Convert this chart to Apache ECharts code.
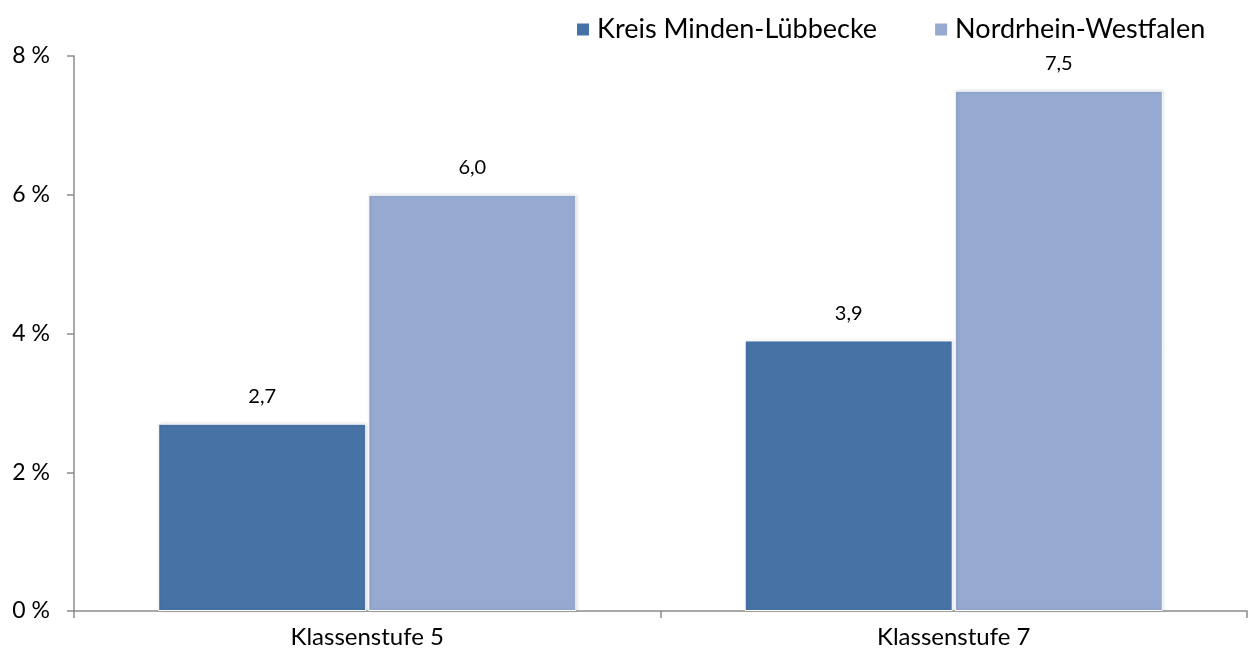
<!DOCTYPE html>
<html>
<head>
<meta charset="utf-8">
<script src="https://cdn.jsdelivr.net/npm/echarts@6/dist/echarts.min.js"></script>
<style>html,body{margin:0;padding:0;background:#fff}#c{width:1248px;height:657px}</style>
</head>
<body>
<div id="c"></div>
<script>
const categories = ['Klassenstufe 5', 'Klassenstufe 7'];
const seriesNames = ['Kreis Minden-Lübbecke', 'Nordrhein-Westfalen'];
const kreisValues = [2.7, 3.9];
const nrwValues = [6.0, 7.5];
const yTicks = [0, 2, 4, 6, 8];

const FONT = 'Lato, "Open Sans", sans-serif';
const chart = echarts.init(document.getElementById('c'));
const barStyle = (color) => ({
  color: color,
  borderColor: '#ffffff',
  borderWidth: 1,
  shadowColor: 'rgba(0,0,0,0.15)',
  shadowBlur: 3,
  shadowOffsetX: 1
});
const lbl = {
  show: true, position: 'top', distance: 17,
  fontFamily: FONT, fontSize: 20, color: '#000',
  formatter: p => p.value.toFixed(1).replace('.', ',')
};
chart.setOption({
  animation: false,
  textStyle: { fontFamily: FONT },
  legend: {
    top: 11, left: 570,
    itemWidth: 14, itemHeight: 14, itemGap: 56,
    icon: 'rect',
    textStyle: { fontFamily: FONT, fontSize: 27, color: '#000', padding: [0,0,0,2] },
    data: seriesNames
  },
  grid: { left: 74, right: 1, top: 56, bottom: 46, containLabel: false },
  xAxis: {
    type: 'category', data: categories,
    axisLine: { lineStyle: { color: '#8c8c8c', width: 1.5 } },
    axisTick: { show: true, length: 7, lineStyle: { color: '#8c8c8c', width: 1.5 } },
    axisLabel: { fontFamily: FONT, fontSize: 24, color: '#000', margin: 14 }
  },
  yAxis: {
    type: 'value', min: yTicks[0], max: yTicks[yTicks.length - 1], interval: 2,
    axisLine: { show: true, lineStyle: { color: '#8c8c8c', width: 1.5 } },
    axisTick: { show: true, length: 7, lineStyle: { color: '#8c8c8c', width: 1.5 } },
    splitLine: { show: false },
    axisLabel: { fontFamily: FONT, fontSize: 23, color: '#000', margin: 24, formatter: v => v + ' %' }
  },
  series: [
    { name: seriesNames[0], type: 'bar', data: kreisValues, barWidth: 208, barGap: '1%',
      itemStyle: barStyle('#4672a6'), label: lbl },
    { name: seriesNames[1], type: 'bar', data: nrwValues, barWidth: 208,
      itemStyle: barStyle('#95a9d1'), label: lbl }
  ]
});
</script>
</body>
</html>
